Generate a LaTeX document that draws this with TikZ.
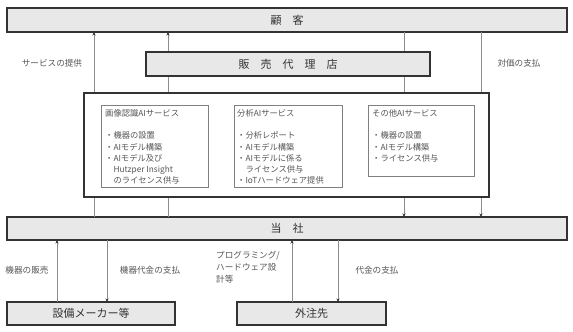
\documentclass[tikz,border=0pt]{standalone}
\usepackage{fontspec}
\setmainfont{Noto Sans CJK JP}
\usetikzlibrary{arrows.meta,calc}
\definecolor{boxfill}{HTML}{E8E8E8}
\definecolor{boxline}{HTML}{333333}
\definecolor{connc}{HTML}{8C8C8C}
\definecolor{lbl}{HTML}{555555}
\definecolor{innerc}{HTML}{808080}
\begin{document}
\begin{tikzpicture}[x=1pt,y=-1pt,
  mainbox/.style={draw=boxline, line width=1.1pt, fill=boxfill, inner sep=0pt, outer sep=0pt,
    anchor=north west, font=\fontsize{11}{13}\selectfont, text=boxline},
  bigbox/.style={draw=boxline, line width=1.1pt, fill=white, inner sep=0pt, outer sep=0pt, anchor=north west},
  svcbox/.style={draw=innerc, line width=0.7pt, fill=white, inner sep=0pt, outer sep=0pt, anchor=north west},
  svctext/.style={anchor=north west, inner sep=0pt, align=left, text=lbl, font=\fontsize{8.3}{11.3}\selectfont},
  conn/.style={draw=connc, line width=0.8pt},
  arr/.style={conn, -{Stealth[length=3.5pt,width=3pt,color=boxline]}},
  lab/.style={inner sep=0pt, text=lbl, font=\fontsize{8.6}{12}\selectfont, align=left}
]
\useasboundingbox (0,0) rectangle (573,332);

% column coordinates for connectors
\coordinate (c1) at (94,0);
\coordinate (c2) at (168,0);
\coordinate (c3) at (404,0);
\coordinate (c4) at (481,0);
\coordinate (c5) at (57,0);
\coordinate (c6) at (107,0);
\coordinate (c7) at (292,0);
\coordinate (c8) at (338,0);

% main boxes
\node[mainbox, minimum width=560pt, minimum height=24pt] (kokyaku) at (7,8) {顧　客};
\node[mainbox, minimum width=560pt, minimum height=23pt] (tousha) at (7,217) {当　社};

% connectors between customer and company (drawn behind middle boxes)
\draw[arr] (tousha.north -| c1) -- (kokyaku.south -| c1);
\draw[arr] (tousha.north -| c2) -- (kokyaku.south -| c2);
\draw[arr] (kokyaku.south -| c3) -- (tousha.north -| c3);
\draw[arr] (kokyaku.south -| c4) -- (tousha.north -| c4);

\node[mainbox, minimum width=284pt, minimum height=24pt] (dairiten) at (146,52) {販　売　代　理　店};
\node[bigbox, minimum width=405pt, minimum height=104pt] (big) at (84,93) {};

\node[svcbox, minimum width=107pt, minimum height=82pt] (s1) at (101,105) {};
\node[svcbox, minimum width=108pt, minimum height=82pt] (s2) at (234,105) {};
\node[svcbox, minimum width=106pt, minimum height=71pt] (s3) at (368,105) {};

\node[svctext] (t1) at ($(s1.north west)+(4,4)$) {画像認識AIサービス\\[11.3pt]・機器の設置\\・AIモデル構築\\・AIモデル及び\\　Hutzper Insight\\　のライセンス供与};
\node[svctext] (t2) at ($(s2.north west)+(3,4)$) {分析AIサービス\\[11.3pt]・分析レポート\\・AIモデル構築\\・AIモデルに係る\\　ライセンス供与\\・IoTハードウェア提供};
\node[svctext] (t3) at ($(s3.north west)+(4,4)$) {その他AIサービス\\[11.3pt]・機器の設置\\・AIモデル構築\\・ライセンス供与};

% lower boxes
\node[mainbox, minimum width=168pt, minimum height=23pt] (setsubi) at (7,302) {設備メーカー等};
\node[mainbox, minimum width=149pt, minimum height=23pt] (gaichu) at (237,302) {外注先};

\draw[arr] (setsubi.north -| c5) -- (tousha.south -| c5);
\draw[arr] (tousha.south -| c6) -- (setsubi.north -| c6);
\draw[arr] (gaichu.north -| c7) -- (tousha.south -| c7);
\draw[arr] (tousha.south -| c8) -- (gaichu.north -| c8);

% labels
\node[lab] (l1) at (52,63) {サービスの提供};
\node[lab] (l2) at (519,63) {対価の支払};
\node[lab] (l3) at (27,270) {機器の販売};
\node[lab] (l4) at (150,270) {機器代金の支払};
\node[lab, anchor=north west] (l5) at (216,251) {プログラミング/\\ハードウェア設\\計等};
\node[lab] (l6) at (377,270) {代金の支払};
\end{tikzpicture}
\end{document}
